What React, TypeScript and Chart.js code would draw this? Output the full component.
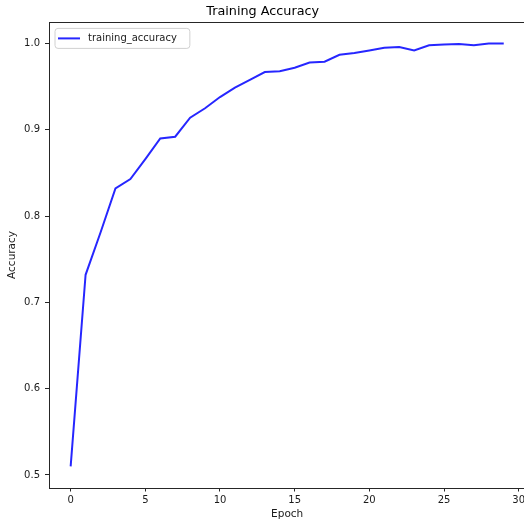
import React, { useEffect, useRef } from 'react';
import { Chart, registerables } from 'chart.js';

Chart.register(...registerables);

const epochs = [0, 1, 2, 3, 4, 5, 6, 7, 8, 9, 10, 11, 12, 13, 14, 15, 16, 17, 18, 19, 20, 21, 22, 23, 24, 25, 26, 27, 28, 29];
const trainingAccuracy = [
  0.51, 0.732, 0.781, 0.832, 0.843, 0.866, 0.89, 0.892, 0.914, 0.925,
  0.938, 0.949, 0.958, 0.967, 0.968, 0.972, 0.978, 0.979, 0.987, 0.989,
  0.992, 0.995, 0.996, 0.992, 0.998, 0.999, 0.9995, 0.998, 1.0, 1.0,
];
const xTicks = [0, 5, 10, 15, 20, 25, 30];
const yTicks = [0.5, 0.6, 0.7, 0.8, 0.9, 1.0];
const seriesLabel = 'training_accuracy';
const titleText = 'Training Accuracy';
const xTitle = 'Epoch';
const yTitle = 'Accuracy';

const FONT = 'DejaVu Sans';
const TEXT = '#1a1a1a';
const LINE = 'rgba(0,0,255,0.85)';

const framePlugin = {
  id: 'frame',
  afterDraw(chart: any) {
    const { ctx, chartArea } = chart;
    const l = Math.round(chartArea.left) + 0.5;
    const t = Math.round(chartArea.top) + 0.5;
    const r = Math.round(chartArea.right) + 0.5;
    const b = Math.round(chartArea.bottom) + 0.5;
    ctx.save();
    ctx.strokeStyle = '#262626';
    ctx.lineWidth = 1;
    ctx.strokeRect(l, t, r - l, b - t);
    ctx.restore();
  },
};

const legendPlugin = {
  id: 'mplLegend',
  afterDraw(chart: any) {
    const { ctx, chartArea } = chart;
    const ds = chart.data.datasets[0];
    ctx.save();
    ctx.font = `10px "${FONT}"`;
    const tw = ctx.measureText(ds.label).width;
    const x = chartArea.left + 6;
    const y = chartArea.top + 6;
    const w = 39 + tw + 7;
    const h = 20;
    const rr = 3;
    ctx.beginPath();
    ctx.moveTo(x + rr, y);
    ctx.lineTo(x + w - rr, y);
    ctx.quadraticCurveTo(x + w, y, x + w, y + rr);
    ctx.lineTo(x + w, y + h - rr);
    ctx.quadraticCurveTo(x + w, y + h, x + w - rr, y + h);
    ctx.lineTo(x + rr, y + h);
    ctx.quadraticCurveTo(x, y + h, x, y + h - rr);
    ctx.lineTo(x, y + rr);
    ctx.quadraticCurveTo(x, y, x + rr, y);
    ctx.closePath();
    ctx.fillStyle = 'rgba(255,255,255,0.8)';
    ctx.fill();
    ctx.strokeStyle = '#d0d0d0';
    ctx.lineWidth = 1;
    ctx.stroke();
    const cy = y + h / 2;
    ctx.beginPath();
    ctx.moveTo(x + 3, cy);
    ctx.lineTo(x + 25, cy);
    ctx.strokeStyle = ds.borderColor;
    ctx.lineWidth = 2;
    ctx.stroke();
    ctx.fillStyle = TEXT;
    ctx.textBaseline = 'middle';
    ctx.textAlign = 'left';
    ctx.fillText(ds.label, x + 33, cy + 0.5);
    ctx.restore();
  },
};

export default function App() {
  const ref = useRef<HTMLCanvasElement | null>(null);

  useEffect(() => {
    document.body.style.margin = '0';
    if (!ref.current) return;
    const xmin = Math.min(...epochs);
    const xmax = Math.max(...epochs);
    const xm = (xmax - xmin) * 0.05;
    const ymin = Math.min(...trainingAccuracy);
    const ymax = Math.max(...trainingAccuracy);
    const ym = (ymax - ymin) * 0.05;

    const chart = new Chart(ref.current, {
      type: 'line',
      data: {
        datasets: [
          {
            label: seriesLabel,
            data: epochs.map((e, i) => ({ x: e, y: trainingAccuracy[i] })),
            borderColor: LINE,
            backgroundColor: LINE,
            borderWidth: 2,
            pointRadius: 0,
            tension: 0,
            fill: false,
          },
        ],
      },
      options: {
        animation: false,
        responsive: false,
        events: [],
        layout: { padding: { left: 0, top: 0, right: 540 - 525.4, bottom: 0 } },
        plugins: {
          legend: { display: false },
          tooltip: { enabled: false },
          title: {
            display: true,
            text: titleText,
            color: '#000',
            font: { family: FONT, size: 12.8, weight: 'normal', lineHeight: 1.2 },
            padding: { top: 4.3, bottom: 2.74 },
          },
        },
        scales: {
          x: {
            type: 'linear',
            min: xmin - xm,
            max: xmax + xm,
            afterBuildTicks: (s: any) => {
              s.ticks = xTicks.map((v) => ({ value: v }));
            },
            afterFit: (s: any) => {
              s.height = 523 - 487.5;
            },
            border: { display: false },
            grid: {
              display: true,
              drawOnChartArea: false,
              drawTicks: true,
              tickLength: 4,
              color: '#262626',
              lineWidth: 1,
            },
            ticks: {
              color: TEXT,
              font: { family: FONT, size: 10 },
              padding: 3,
              maxRotation: 0,
              autoSkip: false,
              callback: (v: any) => String(v),
            },
            title: {
              display: true,
              text: xTitle,
              color: TEXT,
              font: { family: FONT, size: 10.5 },
              padding: { top: 0, bottom: 2.7 },
            },
          },
          y: {
            type: 'linear',
            min: ymin - ym,
            max: ymax + ym,
            afterBuildTicks: (s: any) => {
              s.ticks = yTicks.map((v) => ({ value: v }));
            },
            afterFit: (s: any) => {
              s.width = 49;
            },
            border: { display: false },
            grid: {
              display: true,
              drawOnChartArea: false,
              drawTicks: true,
              tickLength: 4,
              color: '#262626',
              lineWidth: 1,
            },
            ticks: {
              color: TEXT,
              font: { family: FONT, size: 10 },
              padding: 5,
              autoSkip: false,
              callback: (v: any) => Number(v).toFixed(1),
            },
            title: {
              display: true,
              text: yTitle,
              color: TEXT,
              font: { family: FONT, size: 10.5 },
              padding: { top: 6.2, bottom: 0 },
            },
          },
        },
      },
      plugins: [framePlugin, legendPlugin],
    } as any);

    return () => chart.destroy();
  }, []);

  return (
    <div style={{ width: 524, height: 523, overflow: 'hidden', position: 'relative', background: '#fff' }}>
      <canvas ref={ref} width={540} height={523} style={{ display: 'block', width: 540, height: 523 }} />
    </div>
  );
}
